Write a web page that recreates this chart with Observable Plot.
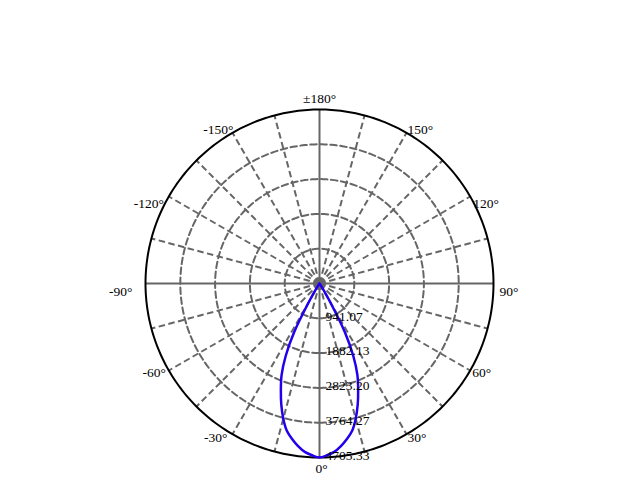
<!DOCTYPE html>
<html><head><meta charset="utf-8">
<script src="https://cdn.jsdelivr.net/npm/d3@7"></script>
<script src="https://cdn.jsdelivr.net/npm/@observablehq/plot@0.6"></script>
<style>body{margin:0;background:#fff}</style>
</head><body><div id="chart"></div>
<script>
// ring (radial) values and their labels
const ringValues = [941.07, 1882.13, 2823.20, 3764.27, 4705.33];
const ringLabels = ["941.07", "1882.13", "2823.20", "3764.27", "4705.33"];
// spokes every 15 degrees
const spokeAngles = d3.range(0, 360, 15);
// angle tick labels
const angleTicks = [0, 30, 60, 90, 120, 150, 180, -150, -120, -90, -60, -30];
const angleTickLabels = ["0°", "30°", "60°", "90°", "120°", "150°", "±180°", "-150°", "-120°", "-90°", "-60°", "-30°"];
// luminous intensity curve (gamma angle in degrees, cd)
const gammaDeg  = [0, 2.5, 5, 7.5, 10, 12.5, 15, 17.5, 20, 22.5, 25, 27.5, 30, 32.5, 35, 40, 50, 60, 70, 80, 90, 120, 150, 180];
const intensity = [4705, 4650, 4570, 4435, 4270, 4080, 3785, 3435, 3055, 2677, 2163, 1487, 540, 135, 50, 25, 12, 8, 5, 4, 3, 2, 1, 0];

const R = ringValues[ringValues.length - 1];
const rad = a => a * Math.PI / 180;
const px = (a, v) => v * Math.sin(rad(a));
const py = (a, v) => -v * Math.cos(rad(a));

// closed curve: mirror the half-plane values
const curve = [];
for (let i = gammaDeg.length - 1; i > 0; i--) curve.push({a: -gammaDeg[i], v: intensity[i]});
for (let i = 0; i < gammaDeg.length; i++) curve.push({a: gammaDeg[i], v: intensity[i]});

const circlePts = v => d3.range(0, 361, 1).map(a => ({a, v}));
const innerRings = ringValues.slice(0, -1);

const grey = "#666";
const font = "Liberation Serif, Times New Roman, serif";
const fs = 13.5;

// label placement tweaks (pixels) relative to circle point
const nudge = {
  "0": [2, 11, "middle"], "30": [1, 3, "start"], "60": [2, 2, "start"], "90": [6, 8, "start"],
  "120": [3, 7, "start"], "150": [1, -3, "start"], "180": [0, -11, "middle"],
  "-150": [1, -3, "end"], "-120": [-5, 7, "end"], "-90": [-13, 8, "end"], "-60": [-3, 2, "end"], "-30": [-5, 3, "end"]
};

const marks = [];
// dashed inner rings
innerRings.forEach(v => {
  marks.push(Plot.line(circlePts(v), {x: d => px(d.a, d.v), y: d => py(d.a, d.v), stroke: grey, strokeWidth: 2, strokeDasharray: "6.5,3.5"}));
});
// spokes
marks.push(Plot.link(spokeAngles.filter(a => a % 90 !== 0), {
  x1: 0, y1: 0, x2: a => px(a, R), y2: a => py(a, R), stroke: grey, strokeWidth: 2, strokeDasharray: "6.5,3.5"
}));
marks.push(Plot.link(spokeAngles.filter(a => a % 90 === 0), {
  x1: 0, y1: 0, x2: a => px(a, R), y2: a => py(a, R), stroke: grey, strokeWidth: 2
}));
// outer circle
marks.push(Plot.line(circlePts(R), {x: d => px(d.a, d.v), y: d => py(d.a, d.v), stroke: "#000", strokeWidth: 2}));
// intensity curve
marks.push(Plot.line(curve, {x: d => px(d.a, d.v), y: d => py(d.a, d.v), stroke: "#2200ee", strokeWidth: 2.5, curve: "catmull-rom"}));
// ring labels
marks.push(Plot.text(ringValues, {x: 0, y: d => -d, text: (d, i) => ringLabels[i], dx: 6, dy: -2, textAnchor: "start", lineAnchor: "middle", fill: "#000", fontSize: fs, fontFamily: font}));
// angle labels
angleTicks.forEach((a, i) => {
  const [dx, dy, anchor] = nudge[String(a)];
  marks.push(Plot.text([a], {x: d => px(d, R), y: d => py(d, R), text: () => angleTickLabels[i], dx, dy, textAnchor: anchor, lineAnchor: "middle", fill: "#000", fontSize: fs, fontFamily: font}));
});

const chart = Plot.plot({
  width: 625, height: 487,
  marginLeft: 145, marginRight: 132, marginTop: 109, marginBottom: 30,
  x: {domain: [-R, R], axis: null},
  y: {domain: [-R, R], axis: null},
  style: {background: "#fff", overflow: "visible"},
  marks
});
document.getElementById("chart").appendChild(chart);
</script>
</body></html>
